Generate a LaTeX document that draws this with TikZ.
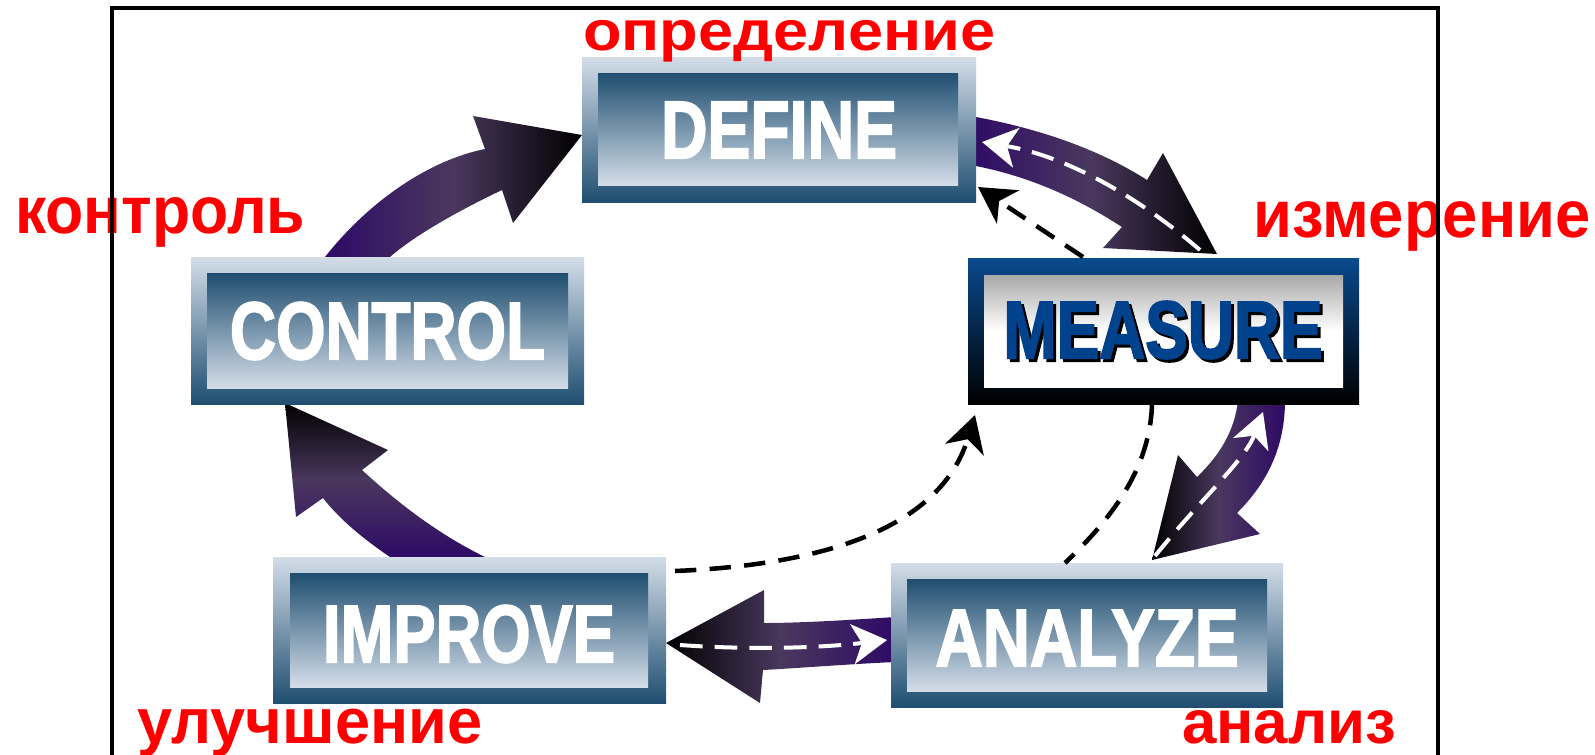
\documentclass[tikz,border=0pt]{standalone}
\usepackage{fontspec}
\usepackage{graphicx}
\usetikzlibrary{arrows.meta}
\newfontfamily\labfont{Liberation Sans Bold}
\newfontfamily\boxfont[FakeBold=2.5]{Liberation Sans Bold}
\definecolor{arrP}{HTML}{2E0A66}
\definecolor{arrM}{HTML}{4A385E}
\definecolor{boxL}{HTML}{D3DDE8}
\definecolor{boxD}{HTML}{1F4E70}
\definecolor{labR}{HTML}{FF0000}
\definecolor{measB}{HTML}{0A4A8E}
\definecolor{measT}{HTML}{00428C}
\definecolor{measG}{HTML}{A8A8A8}
\newdimen\pxu \pxu=0.75pt
\newcommand{\boxword}[2]{\resizebox{#1\pxu}{\height}{\boxfont\fontsize{61pt}{61pt}\selectfont #2}}
\newcommand{\labword}[3]{\resizebox{#1\pxu}{\height}{\labfont\fontsize{#2}{#2}\selectfont #3}}
\tikzset{
  outerbox/.style={top color=boxL, bottom color=boxD},
  innerbox/.style={top color=boxD, bottom color=boxL},
  boxtext/.style={inner sep=0pt, text=white},
  lab/.style={inner sep=0pt, anchor=base west, text=labR},
  blackdash/.style={draw=black, line width=3.4pt, dash pattern=on 16pt off 10pt},
  whitedash/.style={draw=white, line width=3pt, dash pattern=on 17pt off 9pt},
  headB/.style={-{Stealth[length=27pt,width=30pt,inset=8pt]}},
}
\begin{document}
\begin{tikzpicture}[x=0.75pt,y=-0.75pt]
\useasboundingbox (0,0) rectangle (1595,754);
% thick arrows
\shade[left color=arrP, right color=black, middle color=arrM]
  (325,257) .. controls (370,200) and (430,160) .. (485,149) -- (473,116) -- (582,135)
  -- (513,223) -- (502,190) .. controls (460,210) and (415,235) .. (390,257) -- cycle;
\shade[top color=black, bottom color=arrP, middle color=arrM]
  (390,557) .. controls (365,540) and (340,520) .. (323,498) -- (296,517) -- (285,403)
  -- (388,450) -- (362,470) .. controls (400,505) and (440,535) .. (485,557) -- cycle;
\shade[left color=arrP, right color=black, middle color=arrM]
  (965,115) .. controls (1040,128) and (1100,150) .. (1147,180) -- (1163,153) -- (1217,254)
  -- (1103,248) -- (1122,227) .. controls (1080,200) and (1030,175) .. (965,164) -- cycle;
\shade[left color=black, right color=arrP, middle color=arrM]
  (1238,400) .. controls (1235,430) and (1220,455) .. (1197,477) -- (1178,455) -- (1152,560)
  -- (1260,534) -- (1237,513) .. controls (1265,485) and (1285,450) .. (1285,400) -- cycle;
\shade[left color=black, right color=arrP, middle color=arrM]
  (895,617) .. controls (850,620) and (800,623) .. (764,623) -- (764,590) -- (666,643)
  -- (760,703) -- (763,670) .. controls (800,668) and (850,664) .. (895,662) -- cycle;
% boxes
\shade[outerbox] (582,57) rectangle (976,202);
\shade[innerbox] (598,73) rectangle (958,185);
\node[boxtext] (define) at (779,130) {\boxword{236}{DEFINE}};
\shade[outerbox] (191,257) rectangle (584,404);
\shade[innerbox] (207,273) rectangle (568,388);
\node[boxtext] (control) at (387.5,331) {\boxword{315}{CONTROL}};
\shade[top color=measB, bottom color=black] (968,258) rectangle (1359,404);
\shade[top color=measG, bottom color=white, middle color=white] (984,275) rectangle (1343,387);
\node[boxtext, text=black] at (1166,333) {\boxword{319}{MEASURE}};
\node[boxtext, text=measT] (measure) at (1163,330) {\boxword{319}{MEASURE}};
\shade[outerbox] (273,557) rectangle (666,703);
\shade[innerbox] (290,573) rectangle (648,687);
\node[boxtext] (improve) at (469,634) {\boxword{292}{IMPROVE}};
\shade[outerbox] (891,563) rectangle (1283,707);
\shade[innerbox] (907,579) rectangle (1267,691);
\node[boxtext] (analyze) at (1087,638) {\boxword{303}{ANALYZE}};
% dashed connectors
\coordinate (mTop) at (1083,257);
\coordinate (dBR) at (978,187);
\coordinate (mBot) at (1152,404);
\coordinate (aTop) at (1065,563);
\coordinate (iR) at (675,571);
\coordinate (mBL) at (975,415);
\draw[blackdash, headB] (mTop) -- (dBR);
\draw[blackdash] (mBot) .. controls (1150,470) and (1110,520) .. (aTop);
\draw[blackdash, headB] (iR) .. controls (820,565) and (940,530) .. (mBL);
% white dashed inside arrows
\draw[whitedash, -{Stealth[length=26pt,width=30pt,inset=7pt,white]}]
  (1200,250) .. controls (1130,190) and (1060,155) .. (982,142);
\draw[whitedash, -{Stealth[length=26pt,width=28pt,inset=7pt,white]}]
  (1155,556) .. controls (1200,500) and (1245,460) .. (1263,412);
\draw[whitedash, -{Stealth[length=26pt,width=30pt,inset=7pt,white]}]
  (680,645) .. controls (750,650) and (820,648) .. (887,640);
% labels
\node[lab] (lDefine) at (583,50) {\labword{412}{42pt}{определение}};
\node[lab] (lControl) at (15,233) {\labword{290}{50pt}{контроль}};
\node[lab] (lMeasure) at (1253,237) {\labword{337}{50pt}{измерение}};
\node[lab] (lImprove) at (137,743) {\labword{345}{48pt}{улучшение}};
\node[lab] (lAnalyze) at (1182,743) {\labword{214}{46pt}{анализ}};
% frame
\draw[line width=2.3pt] (112,756) -- (112,8) -- (1438,8) -- (1438,756);
\end{tikzpicture}
\end{document}
